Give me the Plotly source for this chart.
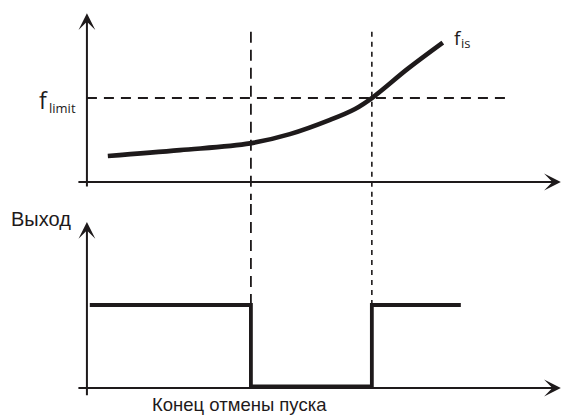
import plotly.graph_objects as go

# time axis (arbitrary units), shared by both panels
t_cancel_end = 4.0      # dashed marker, "Конец отмены пуска"
t_restart = 6.95        # dotted marker, f_is crosses f_limit
t_axis_end = 11.56
t_limit_end = 10.24

# top panel: frequency curve f_is(t), f_limit = 1
curve_t = [0.51, 2.27, 3.98, 4.95, 5.93, 6.54, 6.95, 7.83, 8.68]
curve_f = [0.31, 0.38, 0.46, 0.57, 0.74, 0.87, 1.00, 1.35, 1.66]
f_limit = 1.0
f_axis_top = 2.01
f_marker_top = 1.79

# bottom panel: output signal
step_t = [0.07, 4.0, 4.0, 6.95, 6.95, 9.12]
step_v = [1.0, 1.0, 0.02, 0.02, 1.0, 1.0]
out_high = 1.0
v_axis_top = 2.0

INK = "#1e1a1b"
TOP_RANGE = [-0.214, 2.167]
BOT_RANGE = [-0.349, 2.265]

fig = go.Figure()


def _line(x, y, yaxis, width, dash="solid", shape="linear"):
    fig.add_trace(
        go.Scatter(
            x=x, y=y, yaxis=yaxis, mode="lines",
            line={"color": INK, "width": width, "dash": dash, "shape": shape},
            hoverinfo="skip", showlegend=False,
        )
    )


# reference lines
_line([0, t_limit_end], [f_limit, f_limit], "y", 1.8, dash="10px,7px")
_line([t_cancel_end, t_cancel_end], [f_marker_top, TOP_RANGE[0]], "y", 1.8, dash="11px,7px")
_line([t_cancel_end, t_cancel_end], [out_high, BOT_RANGE[1]], "y2", 1.8, dash="11px,7px")
_line([t_restart, t_restart], [f_marker_top, TOP_RANGE[0]], "y", 1.6, dash="5px,5px")
_line([t_restart, t_restart], [out_high, BOT_RANGE[1]], "y2", 1.6, dash="5px,5px")

# signals
_line(curve_t, curve_f, "y", 4.6, shape="spline")
_line(step_t, step_v, "y2", 3.8)


def _arrow(x, y, ax, ay, yref):
    fig.add_annotation(
        x=x, y=y, ax=ax, ay=ay, xref="x", yref=yref, axref="x", ayref=yref,
        text="", showarrow=True, arrowhead=3, arrowsize=1.4, arrowwidth=2,
        arrowcolor=INK,
    )


# axes with arrowheads
_arrow(t_axis_end, 0, -0.244, 0, "y")
_arrow(0, f_axis_top, 0, -0.07, "y")
_arrow(t_axis_end, 0, -0.244, 0, "y2")
_arrow(0, v_axis_top, 0, -0.105, "y2")


def _label(x, y, yref, text, family, size, yanchor="middle"):
    fig.add_annotation(
        x=x, y=y, xref="x", yref=yref, xanchor="left", yanchor=yanchor,
        text=text, showarrow=False,
        font={"family": family, "size": size, "color": INK},
    )


# f_limit and f_is, main letter + subscript
_label(-1.22, 0.976, "y", "f", "Open Sans", 23)
_label(-0.98, 0.887, "y", "limit", "Open Sans", 13)
_label(8.90, 1.72, "y", "f", "Open Sans", 19)
_label(9.07, 1.652, "y", "is", "Open Sans", 13)

_label(-1.9, 2.04, "y2", "Выход", "Liberation Sans", 20)
_label(1.54, BOT_RANGE[0], "y2", "Конец отмены пуска", "Liberation Sans", 18.5,
       yanchor="bottom")

hidden = {"visible": False, "showgrid": False, "zeroline": False, "fixedrange": True}
fig.update_layout(
    width=567, height=417,
    margin={"l": 0, "r": 0, "t": 0, "b": 0},
    paper_bgcolor="white", plot_bgcolor="white",
    xaxis={**hidden, "range": [-2.12, 11.71]},
    yaxis={**hidden, "range": TOP_RANGE, "domain": [0.5204, 1.0]},
    yaxis2={**hidden, "range": BOT_RANGE, "domain": [0.0, 0.5204], "anchor": "x"},
    showlegend=False,
)

# drop the default 8px body margin so the figure sits at the page origin
fig.write_html(
    "out.html",
    config={"displayModeBar": False},
    post_script="document.body.style.margin = '0';",
)
